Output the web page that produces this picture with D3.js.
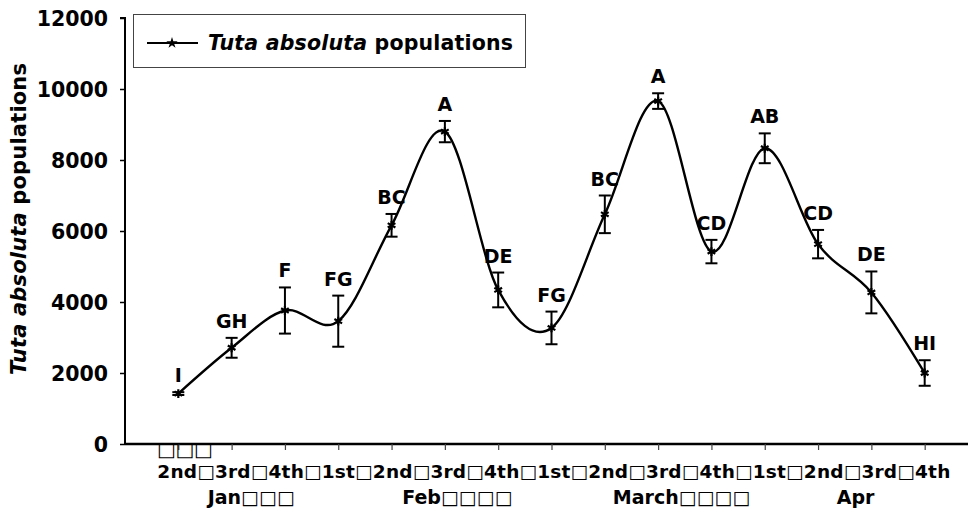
<!DOCTYPE html>
<html>
<head>
<meta charset="utf-8">
<script src="https://cdn.jsdelivr.net/npm/d3@7"></script>
<style>
  body { margin: 0; background: #fff; }
  svg { font-family: "DejaVu Sans", Verdana, sans-serif; font-weight: bold; }
</style>
</head>
<body>
<svg id="chart" width="968" height="512"></svg>
<script>
var weeks = ["2nd","3rd","4th","1st","2nd","3rd","4th","1st","2nd","3rd","4th","1st","2nd","3rd","4th"];
var months = ["Jan\u25A1\u25A1\u25A1", "Feb\u25A1\u25A1\u25A1\u25A1", "March\u25A1\u25A1\u25A1\u25A1", "Apr"];
var population = [1420, 2710, 3760, 3460, 6160, 8800, 4340, 3270, 6470, 9660, 5420, 8330, 5630, 4270, 2000];
var errors = [40, 280, 650, 720, 320, 300, 490, 460, 530, 220, 330, 420, 400, 590, 360];
var letters = ["I","GH","F","FG","BC","A","DE","FG","BC","A","CD","AB","CD","DE","HI"];
var yTicks = [0, 2000, 4000, 6000, 8000, 10000, 12000];

// month label start positions (in category units)
var monthAnchor = [0.55, 4.2, 8.15, 12.35];

var svg = d3.select("#chart");

var x = d3.scaleLinear().domain([-1, 15]).range([125, 978]);
var y = d3.scaleLinear().domain([0, 12000]).range([444, 18]);

var data = population.map((v, i) => ({i: i, v: v, e: errors[i], l: letters[i]}));

// axes
var yAxis = d3.axisLeft(y).tickValues(yTicks).tickSize(5).tickFormat(d3.format("d"));
var gy = svg.append("g").attr("transform", "translate(125,0)").call(yAxis);
gy.select(".domain").attr("stroke", "#000").attr("stroke-width", 2).attr("d", "M-5," + y(12000) + "H0V" + y(0));
gy.selectAll(".tick line").attr("stroke", "#000").attr("stroke-width", 1.5);
gy.selectAll(".tick text")
  .attr("x", -17)
  .attr("dy", "0.36em")
  .attr("font-size", 20.5)
  .attr("font-family", "DejaVu Sans")
  .attr("font-weight", "bold")
  .attr("fill", "#000");

var xAxis = d3.axisBottom(x).tickValues(d3.range(0, 15)).tickSize(6).tickFormat("");
var gx = svg.append("g").attr("transform", "translate(0," + y(0) + ")").call(xAxis);
gx.select(".domain").attr("stroke", "#000").attr("stroke-width", 2.5).attr("d", "M125,0H978");
gx.selectAll(".tick line").attr("stroke", "#444").attr("stroke-width", 1.2);

// category labels
svg.append("text")
  .attr("x", 157)
  .attr("y", 456)
  .attr("font-size", 20)
  .attr("font-weight", "normal")
  .attr("textLength", 56)
  .text("\u25A1\u25A1\u25A1");

svg.append("text")
  .attr("x", x(0) - 21)
  .attr("y", 478)
  .attr("font-size", 18.5)
  .attr("textLength", 793)
  .attr("lengthAdjust", "spacing")
  .text(weeks.join("\u25A1"));

svg.selectAll(".month")
  .data(months)
  .enter()
  .append("text")
  .classed("month", true)
  .attr("x", (d, i) => x(monthAnchor[i]))
  .attr("y", 504)
  .attr("font-size", 19)
  .text(d => d);

// y title
var yt = svg.append("text")
  .attr("transform", "translate(26," + 219 + ") rotate(-90)")
  .attr("text-anchor", "middle")
  .attr("font-size", 21)
  .attr("textLength", 312);
yt.append("tspan").attr("font-style", "italic").text("Tuta absoluta");
yt.append("tspan").text(" populations");

// smoothed line
var line = d3.line()
  .x(d => x(d.i))
  .y(d => y(d.v))
  .curve(d3.curveCardinal.tension(0));

svg.append("path")
  .datum(data)
  .attr("fill", "none")
  .attr("stroke", "#000")
  .attr("stroke-width", 2.4)
  .attr("d", line);

// error bars
var bars = svg.append("g").selectAll(".err")
  .data(data)
  .enter()
  .append("g")
  .classed("err", true)
  .attr("stroke", "#000")
  .attr("stroke-width", 2);

bars.append("line")
  .attr("x1", d => x(d.i)).attr("x2", d => x(d.i))
  .attr("y1", d => y(d.v + d.e)).attr("y2", d => y(d.v - d.e));
bars.append("line")
  .attr("x1", d => x(d.i) - 6).attr("x2", d => x(d.i) + 6)
  .attr("y1", d => y(d.v + d.e)).attr("y2", d => y(d.v + d.e));
bars.append("line")
  .attr("x1", d => x(d.i) - 6).attr("x2", d => x(d.i) + 6)
  .attr("y1", d => y(d.v - d.e)).attr("y2", d => y(d.v - d.e));

// markers
var star = d3.symbol().type(d3.symbolAsterisk || d3.symbolCross).size(55);
svg.append("g").selectAll(".mark")
  .data(data)
  .enter()
  .append("path")
  .classed("mark", true)
  .attr("transform", d => "translate(" + x(d.i) + "," + y(d.v) + ")")
  .attr("d", star)
  .attr("fill", "none")
  .attr("stroke", "#000")
  .attr("stroke-width", 2.2);

// significance letters
svg.append("g").selectAll(".letter")
  .data(data)
  .enter()
  .append("text")
  .classed("letter", true)
  .attr("x", d => x(d.i))
  .attr("y", d => y(d.v + d.e) - 10)
  .attr("text-anchor", "middle")
  .attr("font-size", 19)
  .text(d => d.l);

// legend
var lg = svg.append("g");
lg.append("rect")
  .attr("x", 133.5).attr("y", 14.5)
  .attr("width", 392).attr("height", 53)
  .attr("fill", "#fff")
  .attr("stroke", "#444")
  .attr("stroke-width", 1);
lg.append("line")
  .attr("x1", 147).attr("x2", 198)
  .attr("y1", 43).attr("y2", 43)
  .attr("stroke", "#000").attr("stroke-width", 2);
lg.append("path")
  .attr("transform", "translate(172,43)")
  .attr("d", d3.symbol().type(d3.symbolStar).size(40))
  .attr("fill", "#000");
var lt = lg.append("text")
  .attr("x", 208)
  .attr("y", 50)
  .attr("font-size", 20.5)
  .attr("textLength", 305);
lt.append("tspan").attr("font-style", "italic").text("Tuta absoluta");
lt.append("tspan").text(" populations");
</script>
</body>
</html>
